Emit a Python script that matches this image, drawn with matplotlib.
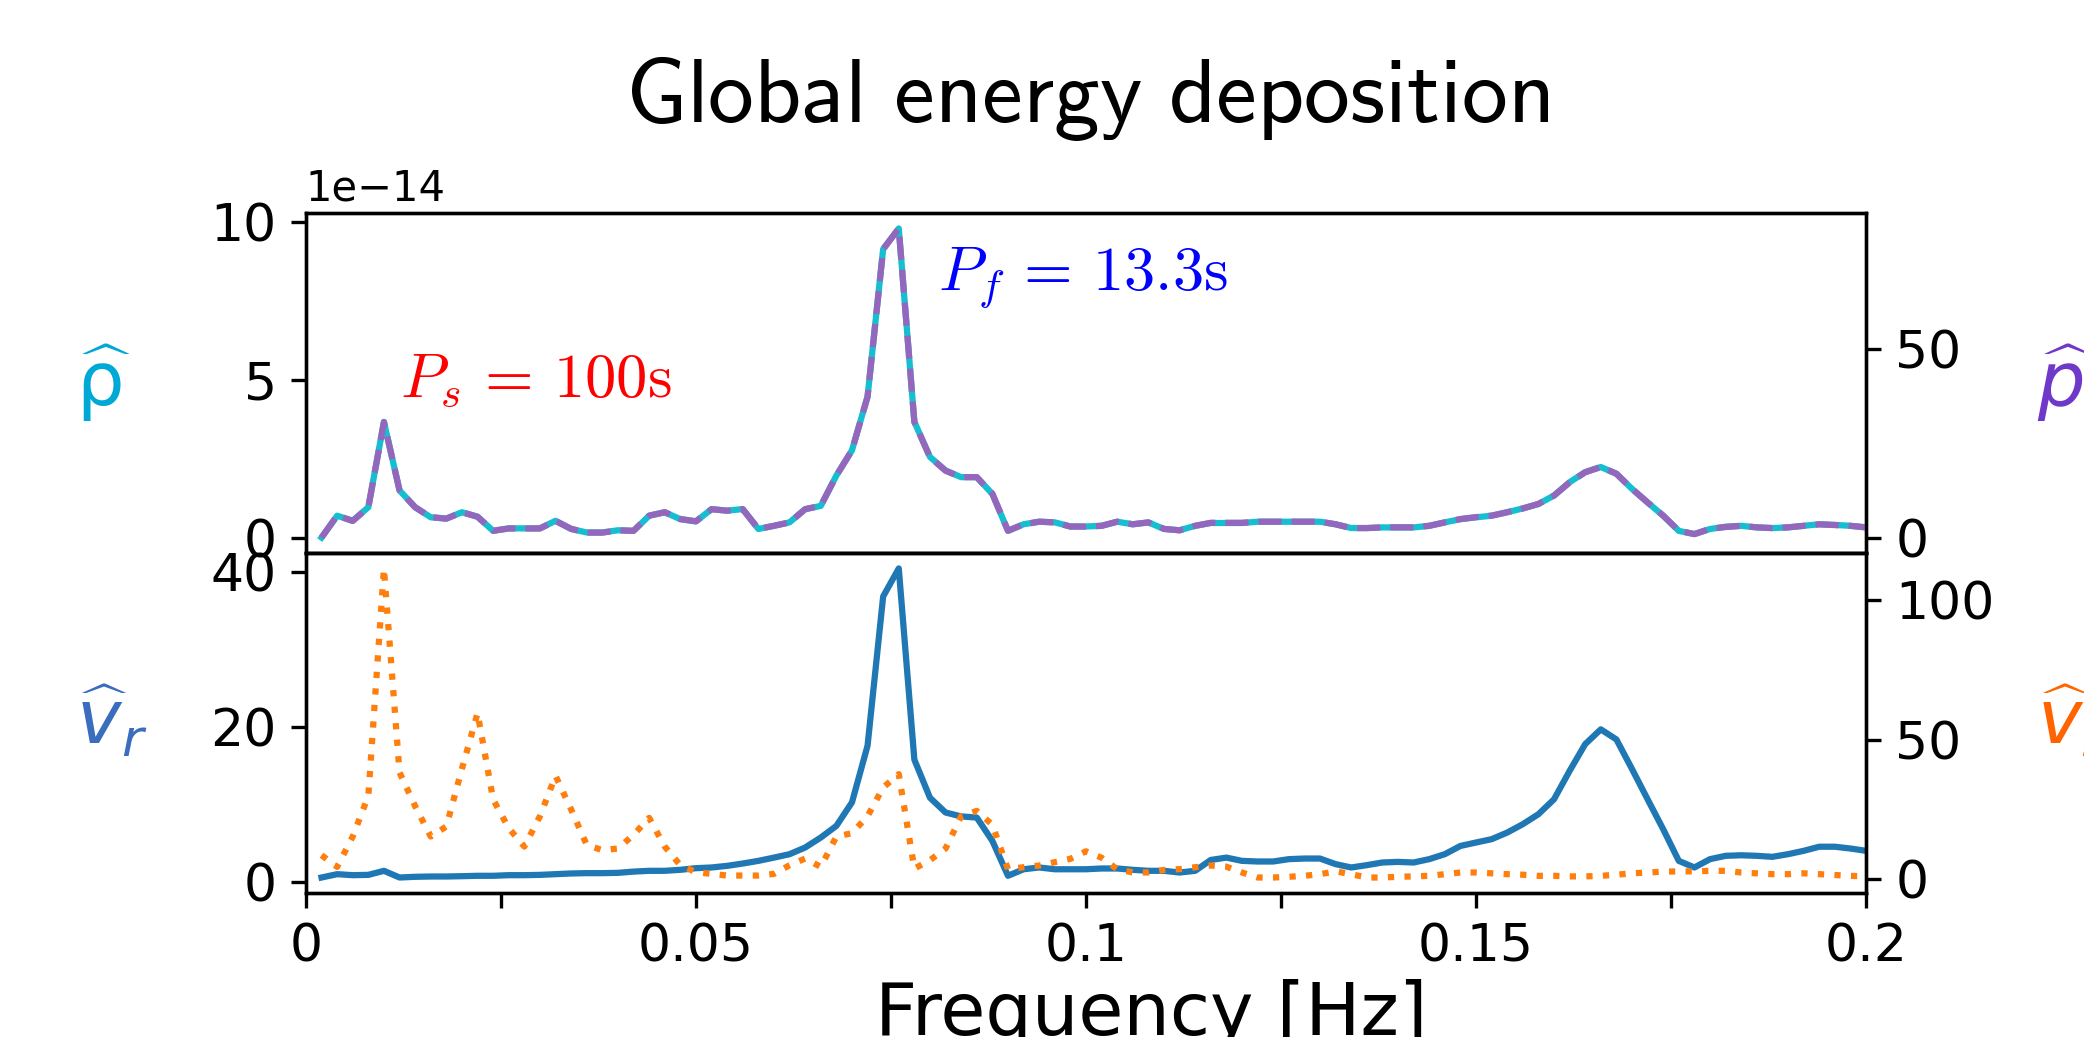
import matplotlib.pyplot as plt
import numpy as np

# frequency grid of the spectrum, 0.002 Hz steps
freq = np.arange(1, 101) * 0.002

# global energy deposition spectra
rho_hat = [  # x 1e-14
    0.0, 0.69, 0.53, 0.96, 3.66, 1.49, 0.96, 0.64, 0.60, 0.80,
    0.66, 0.21, 0.29, 0.29, 0.29, 0.53, 0.27, 0.16, 0.16, 0.23,
    0.21, 0.69, 0.80, 0.58, 0.51, 0.90, 0.85, 0.90, 0.27, 0.37,
    0.48, 0.90, 1.00, 1.96, 2.76, 4.46, 9.13, 9.78, 3.66, 2.55,
    2.12, 1.91, 1.91, 1.38, 0.21, 0.42, 0.50, 0.48, 0.35, 0.35,
    0.37, 0.50, 0.42, 0.48, 0.27, 0.23, 0.37, 0.46, 0.46, 0.46,
    0.50, 0.50, 0.50, 0.50, 0.50, 0.42, 0.30, 0.30, 0.32, 0.32,
    0.32, 0.37, 0.48, 0.58, 0.64, 0.69, 0.80, 0.92, 1.06, 1.33,
    1.75, 2.07, 2.23, 2.02, 1.54, 1.11, 0.69, 0.21, 0.11, 0.27,
    0.34, 0.37, 0.32, 0.30, 0.32, 0.37, 0.42, 0.40, 0.37, 0.32,
]
p_hat = [
    0.0, 5.8, 4.4, 8.0, 30.6, 12.5, 8.0, 5.4, 5.0, 6.7,
    5.5, 1.8, 2.4, 2.4, 2.4, 4.4, 2.3, 1.3, 1.3, 1.9,
    1.8, 5.8, 6.7, 4.9, 4.3, 7.5, 7.1, 7.5, 2.3, 3.1,
    4.0, 7.5, 8.4, 16.4, 23.1, 37.3, 76.4, 81.9, 30.6, 21.3,
    17.7, 16.0, 16.0, 11.6, 1.8, 3.5, 4.2, 4.0, 2.9, 2.9,
    3.1, 4.2, 3.5, 4.0, 2.3, 1.9, 3.1, 3.9, 3.9, 3.9,
    4.2, 4.2, 4.2, 4.2, 4.2, 3.5, 2.5, 2.5, 2.7, 2.7,
    2.7, 3.1, 4.0, 4.9, 5.4, 5.8, 6.7, 7.7, 8.9, 11.1,
    14.6, 17.3, 18.7, 16.9, 12.9, 9.3, 5.8, 1.8, 0.9, 2.3,
    2.8, 3.1, 2.7, 2.5, 2.7, 3.1, 3.5, 3.3, 3.1, 2.7,
]
v_r_hat = [
    0.64, 1.07, 0.94, 0.98, 1.50, 0.64, 0.73, 0.77, 0.77, 0.81,
    0.86, 0.86, 0.94, 0.94, 0.98, 1.07, 1.16, 1.20, 1.20, 1.24,
    1.40, 1.50, 1.50, 1.63, 1.84, 1.93, 2.14, 2.44, 2.78, 3.20,
    3.64, 4.50, 5.78, 7.28, 10.3, 17.6, 36.8, 40.4, 15.8, 10.9,
    9.00, 8.50, 8.35, 5.35, 0.86, 1.70, 1.93, 1.70, 1.70, 1.70,
    1.80, 1.80, 1.63, 1.50, 1.50, 1.28, 1.50, 2.90, 3.20, 2.78,
    2.70, 2.70, 3.00, 3.08, 3.08, 2.36, 1.93, 2.23, 2.57, 2.65,
    2.57, 3.00, 3.64, 4.70, 5.14, 5.57, 6.42, 7.50, 8.78, 10.7,
    14.35, 17.8, 19.7, 18.4, 14.6, 10.7, 6.85, 2.78, 1.93, 3.00,
    3.43, 3.50, 3.43, 3.30, 3.64, 4.07, 4.60, 4.60, 4.37, 4.07,
]
v_z_hat = [
    8.6, 4.4, 15.3, 29.9, 111.5, 38.3, 26.2, 15.3, 18.9, 39.6,
    59.6, 28.6, 18.3, 11.7, 22.6, 37.1, 25.0, 12.3, 10.4, 11.0,
    15.9, 22.0, 11.7, 5.0, 2.5, 1.9, 1.3, 1.3, 1.3, 1.9,
    5.0, 7.4, 4.4, 15.3, 16.5, 22.6, 32.9, 37.7, 3.8, 6.8,
    11.0, 22.6, 24.5, 19.5, 3.6, 4.3, 4.9, 6.1, 7.3, 10.0,
    7.7, 3.6, 2.4, 2.4, 3.3, 3.6, 4.3, 4.9, 4.5, 2.4,
    0.6, 0.6, 0.85, 1.2, 1.8, 2.8, 1.8, 0.6, 0.6, 0.85,
    1.0, 1.2, 1.8, 2.4, 2.4, 2.1, 1.8, 1.6, 1.2, 1.2,
    1.0, 1.0, 1.2, 1.6, 2.1, 2.4, 2.7, 2.8, 2.8, 3.0,
    3.0, 2.4, 2.1, 1.8, 1.8, 2.1, 1.8, 1.5, 1.2, 1.0,
]

xticks = [0, 0.025, 0.05, 0.075, 0.1, 0.125, 0.15, 0.175, 0.2]
xticklabels = ["0", "", "0.05", "", "0.1", "", "0.15", "", "0.2"]

fig, (ax1, ax2) = plt.subplots(2, 1, sharex=True, figsize=(2084 / 300, 1037 / 300), dpi=300)
fig.subplots_adjust(left=0.1468, right=0.8954, top=0.7946, bottom=0.1389, hspace=0)

# top panel: density and pressure
ax1.plot(freq, np.array(rho_hat) * 1e-14, color="tab:cyan")
ax1b = ax1.twinx()
ax1b.plot(freq, p_hat, color="tab:purple", linestyle="--")
ax1.tick_params(axis="x", bottom=False, labelbottom=False)
ax1.ticklabel_format(axis="y", style="sci", scilimits=(-14, -14))

# bottom panel: velocities
ax2.plot(freq, v_r_hat, color="tab:blue")
ax2b = ax2.twinx()
ax2b.plot(freq, v_z_hat, color="tab:orange", linestyle=":")

ax2.set_xlim(0, 0.2)
ax2.set_xticks(xticks)
ax2.set_xticklabels(xticklabels)

for ax in (ax1, ax1b, ax2, ax2b):
    ax.tick_params(labelsize=12.5)

lab = dict(fontsize=18, rotation=0, va="center", ha="left")
ax1.set_ylabel(r"$\widehat{\mathrm{\rho}}$", color="#00a8d6", **lab)
ax2.set_ylabel(r"$\widehat{v}_r$", color="#3a6dbd", **lab)
ax1b.set_ylabel(r"$\widehat{p}$", color="#7038c8", **lab)
ax2b.set_ylabel(r"$\widehat{v}_z$", color="#ff6400", **lab)
ax1.yaxis.set_label_coords(-0.1474, 0.5)
ax2.yaxis.set_label_coords(-0.1474, 0.5)
ax1b.yaxis.set_label_coords(1.1096, 0.5)
ax2b.yaxis.set_label_coords(1.1096, 0.5)

ax2.set_xlabel("Frequency [Hz]", fontsize=17.6, va="baseline")
ax2.xaxis.set_label_coords(0.5417, -0.4164)

ax1.text(0.012, 4.46e-14, r"$P_s\,=\,100\mathrm{s}$", color="red", fontsize=15,
         math_fontfamily="cm")
ax1.text(0.081, 7.85e-14, r"$P_f\,=\,13.3\mathrm{s}$", color="blue", fontsize=15,
         math_fontfamily="cm")

fig.text(0.5215, 0.8824, r"$\mathsf{Global\ energy\ deposition}$", fontsize=22,
         math_fontfamily="cm", ha="center", va="baseline")

fig.savefig("out.png", dpi=300)
